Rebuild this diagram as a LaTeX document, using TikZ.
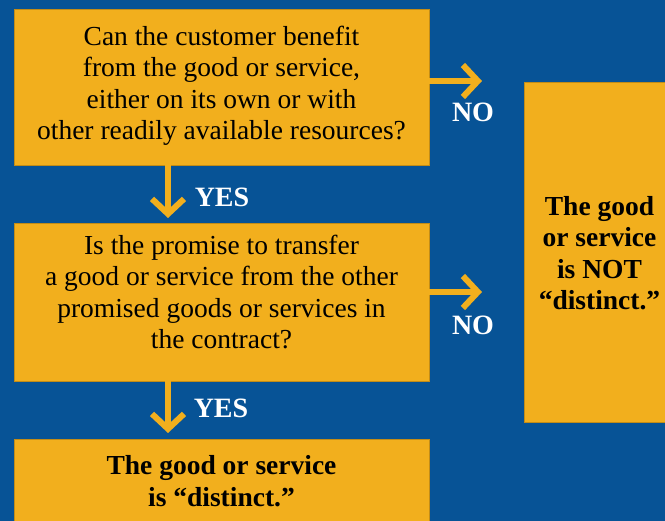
\documentclass[tikz,border=0pt]{standalone}
\usepackage{fontspec}
\setmainfont{Liberation Serif}
\usetikzlibrary{arrows.meta}
\definecolor{bgblue}{RGB}{7,83,150}
\definecolor{boxorange}{RGB}{242,175,29}
\tikzset{
  box/.style={fill=boxorange, draw=boxorange!80!black, line width=0.4pt, inner sep=0pt},
  boxtext/.style={align=center, text=black, inner sep=0pt, font=\fontsize{27.5}{31.5}\selectfont},
  boldtext/.style={align=center, text=black, inner sep=0pt, font=\fontsize{27.5}{31.5}\selectfont\bfseries},
  flowarrow/.style={draw=boxorange, line width=6pt, -{Straight Barb[length=15pt, width=32pt, line width=6pt]}},
  answer/.style={text=white, font=\fontsize{28}{30}\selectfont\bfseries, inner sep=0pt}
}
\begin{document}
\begin{tikzpicture}[x=1pt,y=-1pt]
\useasboundingbox (0,0) rectangle (665,521);
\fill[bgblue] (0,0) rectangle (665,521);
\begin{scope}
\clip (0,0) rectangle (665,521);
% boxes
\node[box, minimum width=415pt, minimum height=156pt] (b1) at (221.5,87) {};
\node[box, minimum width=415pt, minimum height=158pt] (b2) at (221.5,302) {};
\node[box, minimum width=415pt, minimum height=100pt] (b3) at (221.5,489) {};
\node[box, minimum width=150pt, minimum height=340pt] (r) at (599,252) {};
\end{scope}
% texts
\node[boxtext] (b1t) at (221.5,86) {Can the customer benefit\\from the good or service,\\either on its own or with\\other readily available resources?};
\node[boxtext] (b2t) at (221.5,292) {Is the promise to transfer\\a good or service from the other\\promised goods or services in\\the contract?};
\node[boldtext] (b3t) at (221.5,481) {The good or service\\is “distinct.”};
\node[boldtext] (rt) at (599.5,253) {The good\\or service\\is NOT\\“distinct.”};
% arrow end points
\coordinate (n1) at (482,81);
\coordinate (n2) at (482,292);
\coordinate (y1) at (168,218);
\coordinate (y2) at (168,433);
% connectors
\draw[flowarrow] (b1.east |- n1) -- (n1);
\draw[flowarrow] (b2.east |- n2) -- (n2);
\draw[flowarrow] (b1.south -| y1) -- (y1);
\draw[flowarrow] (b2.south -| y2) -- (y2);
% labels
\node[answer] (no1) at (473,112) {NO};
\node[answer] (no2) at (473,325) {NO};
\node[answer] (yes1) at (222,197) {YES};
\node[answer] (yes2) at (221,408) {YES};
\end{tikzpicture}
\end{document}
